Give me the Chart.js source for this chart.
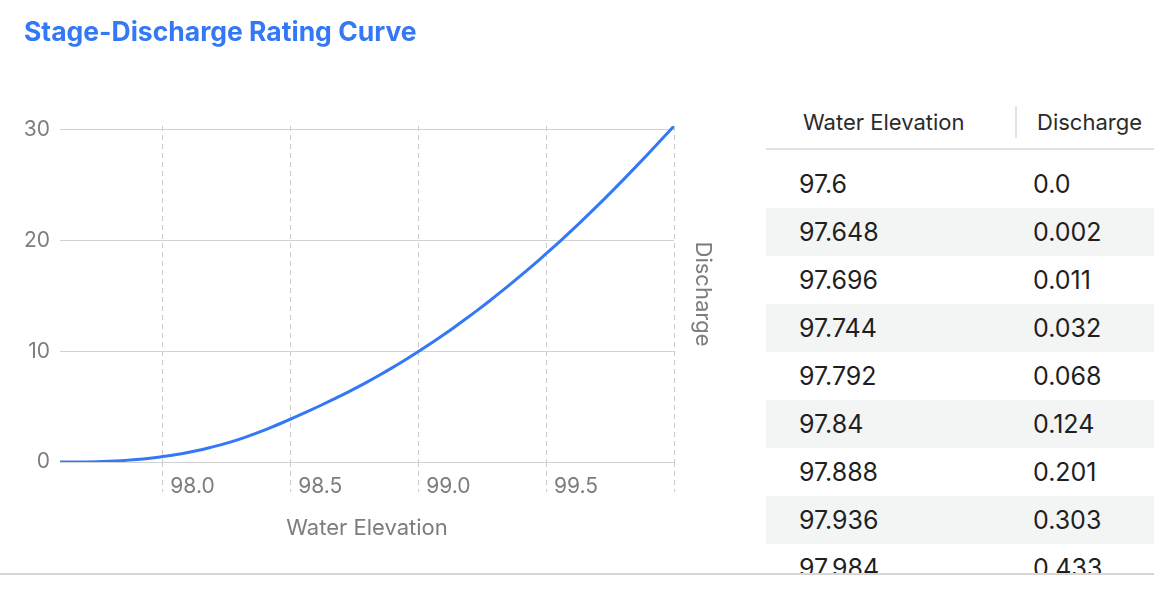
<!DOCTYPE html>
<html>
<head>
<meta charset="utf-8">
<script src="https://cdn.jsdelivr.net/npm/chart.js@4"></script>
<style>
  body { margin: 0; background: #fff; font-family: Inter, "Noto Sans", sans-serif; }
  #title { position: absolute; left: 24px; top: 15px; font-size: 26.5px; font-weight: 700; color: #3478f6; z-index: 2; }
  #chartBox { position: absolute; left: 0; top: 0; width: 720px; height: 546px; }
  #tableBox { position: absolute; left: 766px; top: 98px; width: 388px; height: 475px; overflow: hidden; }
  .head { position: relative; height: 50px; border-bottom: 2px solid #e3e3e3; font-size: 22px; color: #2b2b2b; }
  .head span { position: absolute; top: 0; line-height: 48px; }
  .head .div { position: absolute; left: 249px; top: 8px; width: 2px; height: 32px; background: #e3e3e3; }
  .rows { padding-top: 10px; }
  .row { position: relative; height: 48px; font-size: 25px; color: #1f1f1f; }
  .row.odd { background: #f3f4f4; }
  .row span { position: absolute; top: 0; line-height: 48px; }
  #bottomRule { position: absolute; left: 0; top: 573px; width: 1154px; height: 2px; background: #d6d6d6; }
</style>
</head>
<body>
<div id="title">Stage-Discharge Rating Curve</div>
<div id="chartBox"><canvas id="curve"></canvas></div>
<div id="tableBox">
  <div class="head"><span style="left:37px">Water Elevation</span><div class="div"></div><span style="left:271px">Discharge</span></div>
  <div class="rows" id="rows"></div>
</div>
<div id="bottomRule"></div>
<script>
// water elevation (x) and discharge (y)
const elevation = [97.6, 97.648, 97.696, 97.744, 97.792, 97.84, 97.888, 97.936, 97.984, 98.032,
  98.08, 98.128, 98.176, 98.224, 98.272, 98.32, 98.368, 98.416, 98.464, 98.512,
  98.56, 98.608, 98.656, 98.704, 98.752, 98.8, 98.848, 98.896, 98.944, 98.992,
  99.04, 99.088, 99.136, 99.184, 99.232, 99.28, 99.328, 99.376, 99.424, 99.472,
  99.52, 99.568, 99.616, 99.664, 99.712, 99.76, 99.808, 99.856, 99.904, 99.952, 100.0];
const discharge = [0.0, 0.002, 0.011, 0.032, 0.068, 0.124, 0.201, 0.303, 0.433, 0.587,
  0.772, 0.988, 1.237, 1.522, 1.844, 2.204, 2.605, 3.04, 3.5, 3.98,
  4.48, 4.99, 5.52, 6.06, 6.63, 7.22, 7.84, 8.48, 9.15, 9.85,
  10.57, 11.32, 12.09, 12.89, 13.72, 14.57, 15.45, 16.36, 17.29, 18.24,
  19.22, 20.23, 21.26, 22.32, 23.4, 24.51, 25.64, 26.79, 27.96, 29.15, 30.35];
const xTicks = [98.0, 98.5, 99.0, 99.5, 100.0];
const yTicks = [0, 10, 20, 30];

function fmt(v) {
  return Number.isInteger(v) ? v.toFixed(1) : String(v);
}

// table
var rowsEl = document.getElementById("rows");
for (i = 0; i < elevation.length; i++) {
  var r = document.createElement("div");
  r.className = "row" + (i % 2 == 1 ? " odd" : "");
  r.innerHTML = '<span style="left:33px">' + fmt(elevation[i]) + '</span><span style="left:267px">' + fmt(discharge[i]) + '</span>';
  rowsEl.appendChild(r);
}

const gray = "#7d7d7d";
const tickFont = { family: "Inter", size: 21 };
const titleFont = { family: "Inter", size: 22 };

var ctx = document.getElementById("curve").getContext("2d");
var myChart = new Chart(ctx, {
  type: "line",
  data: {
    datasets: [
      {
        data: elevation.map((x, i) => ({ x: x, y: discharge[i] })),
        borderColor: "#3478f6",
        borderWidth: 3,
        pointRadius: 0,
        cubicInterpolationMode: "monotone",
        fill: false,
      },
    ],
  },
  options: {
    animation: false,
    responsive: true,
    maintainAspectRatio: false,
    layout: { padding: { top: 126, left: 0, right: 0, bottom: 0 } },
    plugins: { legend: { display: false }, tooltip: { enabled: false } },
    scales: {
      x: {
        type: "linear",
        min: elevation[0],
        max: elevation[elevation.length - 1],
        afterBuildTicks: (s) => { s.ticks = xTicks.map((v) => ({ value: v })); },
        afterFit: (s) => { s.height = 84; },
        border: { display: false, dash: [5, 4] },
        grid: {
          color: "#cbcbcb",
          tickBorderDash: [5, 4],
          tickColor: "#cbcbcb",
          tickLength: 30,
        },
        ticks: {
          align: "start",
          labelOffset: 8,
          padding: -18,
          autoSkip: false,
          maxRotation: 0,
          color: gray,
          font: tickFont,
          callback: (v) => (v == 100 ? "" : v.toFixed(1)),
        },
        title: { display: true, text: "Water Elevation", color: gray, font: titleFont },
      },
      y: {
        position: "left",
        min: 0,
        max: Math.max(...discharge),
        afterBuildTicks: (s) => { s.ticks = yTicks.map((v) => ({ value: v })); },
        afterFit: (s) => { s.width = 60; },
        border: { display: false },
        grid: { color: "#d2d2d2", drawTicks: false },
        ticks: { padding: 10, color: gray, font: tickFont },
      },
      y2: {
        position: "right",
        min: 0,
        max: 1,
        afterFit: (s) => { s.width = 46; },
        border: { display: false },
        grid: { display: false, drawTicks: false },
        ticks: { display: false },
        title: { display: true, text: "Discharge", color: gray, font: titleFont },
      },
    },
  },
});
</script>
</body>
</html>
